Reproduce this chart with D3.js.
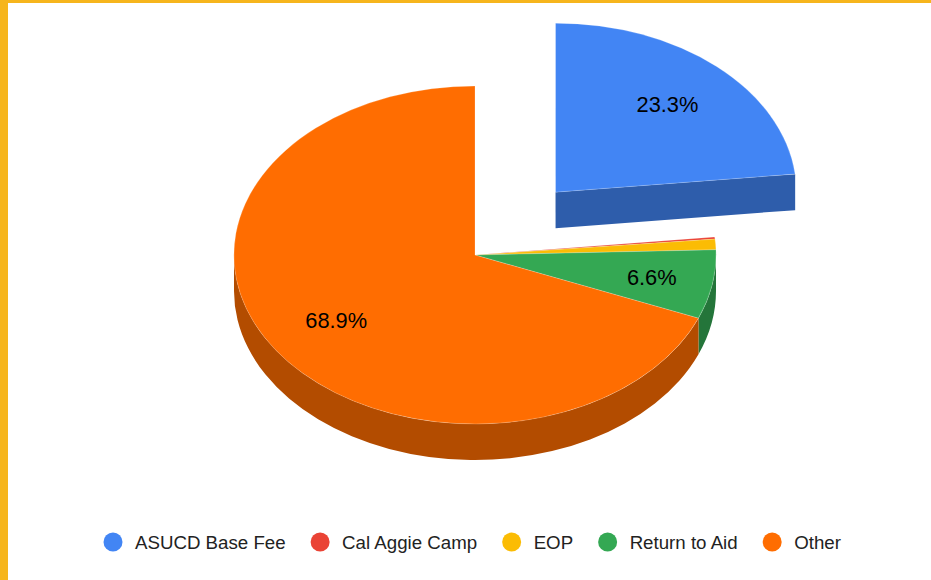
<!DOCTYPE html>
<html>
<head>
<meta charset="utf-8">
<script src="https://d3js.org/d3.v7.min.js"></script>
<style>
  html, body { margin: 0; padding: 0; background: #fff; }
  svg { display: block; }
  text { font-family: "Liberation Sans", Arial, sans-serif; }
</style>
</head>
<body>
<script>
// chart data
var categories = ["ASUCD Base Fee", "Cal Aggie Camp", "EOP", "Return to Aid", "Other"];
var shares = [23.3, 0.2, 1.0, 6.6, 68.9];
var exploded = [0.5, 0, 0, 0, 0];
var topColors = ["#4285f4", "#ea4335", "#fbbc04", "#34a853", "#ff6d01"];
var sideColors = ["#2e5dab", "#a32f25", "#b08403", "#24753a", "#b34c00"];

var width = 931,
    height = 580;

// pie frame: ellipse for the top face plus the extruded depth
var cx = 475,
    cy = 255,
    rx = 241,
    ry = 169,
    depth = 36;

var svg = d3.select("body")
  .append("svg")
  .attr("width", width)
  .attr("height", height);

// yellow page border on the top and left
svg.append("rect").attr("width", width).attr("height", 3).attr("fill", "#f6b51c");
svg.append("rect").attr("width", 8).attr("height", height).attr("fill", "#f6b51c");

// unit circle -> squashed ellipse
var x = d3.scaleLinear().domain([-1, 1]).range([cx - rx, cx + rx]);
var y = d3.scaleLinear().domain([-1, 1]).range([cy - ry, cy + ry]);

var slices = d3.pie().sort(null)(shares);
var arc = d3.arc().innerRadius(0).outerRadius(1);

// offset of a slice pulled out along its middle angle
function shift(d){
  var mid = (d.startAngle + d.endAngle) / 2;
  return [exploded[d.index] * Math.sin(mid), -exploded[d.index] * Math.cos(mid)];
}

function px(d, a, r){
  var s = shift(d);
  return [x(s[0] + r * Math.sin(a)), y(s[1] - r * Math.cos(a))];
}

// front rim of a slice, only the part facing the viewer
function rimPath(d){
  var a0 = Math.max(d.startAngle, Math.PI / 2),
      a1 = Math.min(d.endAngle, Math.PI * 1.5);
  if (a1 <= a0) return null;
  var p0 = px(d, a0, 1),
      p1 = px(d, a1, 1);
  var large = a1 - a0 > Math.PI ? 1 : 0;
  return "M" + p0[0] + "," + p0[1] +
    "A" + rx + "," + ry + " 0 " + large + " 1 " + p1[0] + "," + p1[1] +
    "L" + p1[0] + "," + (p1[1] + depth) +
    "A" + rx + "," + ry + " 0 " + large + " 0 " + p0[0] + "," + (p0[1] + depth) + "Z";
}

// cut face of the pulled out slice
function cutPath(d){
  var p0 = px(d, 0, 0),
      p1 = px(d, d.endAngle, 1);
  return "M" + p0[0] + "," + p0[1] + "L" + p1[0] + "," + p1[1] +
    "L" + p1[0] + "," + (p1[1] + depth) + "L" + p0[0] + "," + (p0[1] + depth) + "Z";
}

// sides first, tops over them
svg.selectAll(".cut")
  .data(slices.filter(function(d){ return exploded[d.index] > 0; }))
  .enter()
  .append("path")
  .attr("class", "cut")
  .attr("fill", function(d){ return sideColors[d.index]; })
  .attr("d", cutPath);

svg.selectAll(".rim")
  .data(slices.filter(function(d){ return rimPath(d) !== null; }))
  .enter()
  .append("path")
  .attr("class", "rim")
  .attr("fill", function(d){ return sideColors[d.index]; })
  .attr("d", rimPath);

svg.selectAll(".top")
  .data(slices)
  .enter()
  .append("path")
  .attr("class", "top")
  .attr("transform", function(d){
    var s = shift(d);
    return "translate(" + x(s[0]) + "," + y(s[1]) + ") scale(" + rx + "," + ry + ")";
  })
  .attr("fill", function(d){ return topColors[d.index]; })
  .attr("stroke", "#fff")
  .attr("stroke-opacity", 0.35)
  .attr("stroke-width", 0.6)
  .attr("vector-effect", "non-scaling-stroke")
  .attr("d", arc);

// percentage labels on the big slices only
svg.selectAll(".pct")
  .data(slices.filter(function(d){ return d.value >= 5; }))
  .enter()
  .append("text")
  .attr("class", "pct")
  .attr("text-anchor", "middle")
  .attr("dominant-baseline", "central")
  .attr("font-size", 21.8)
  .attr("fill", "#000")
  .each(function(d){
    var mid = (d.startAngle + d.endAngle) / 2;
    // narrow slices get their label pushed towards the rim
    var p = px(d, mid, d.value < 10 ? 0.745 : 0.695);
    d3.select(this).attr("x", p[0]).attr("y", p[1]);
  })
  .text(function(d){ return d.value.toFixed(1) + "%"; });

// legend along the bottom, flowed by measured text width
var legendX = 113,
    legendY = 542;

categories.forEach(function(name, i){
  svg.append("circle")
    .attr("cx", legendX)
    .attr("cy", legendY)
    .attr("r", 9.5)
    .attr("fill", topColors[i]);
  var label = svg.append("text")
    .attr("x", legendX + 22)
    .attr("y", legendY)
    .attr("dominant-baseline", "central")
    .attr("font-size", 18.7)
    .attr("fill", "#222")
    .text(name);
  legendX += 22 + label.node().getComputedTextLength() + 34.5;
});
</script>
</body>
</html>
